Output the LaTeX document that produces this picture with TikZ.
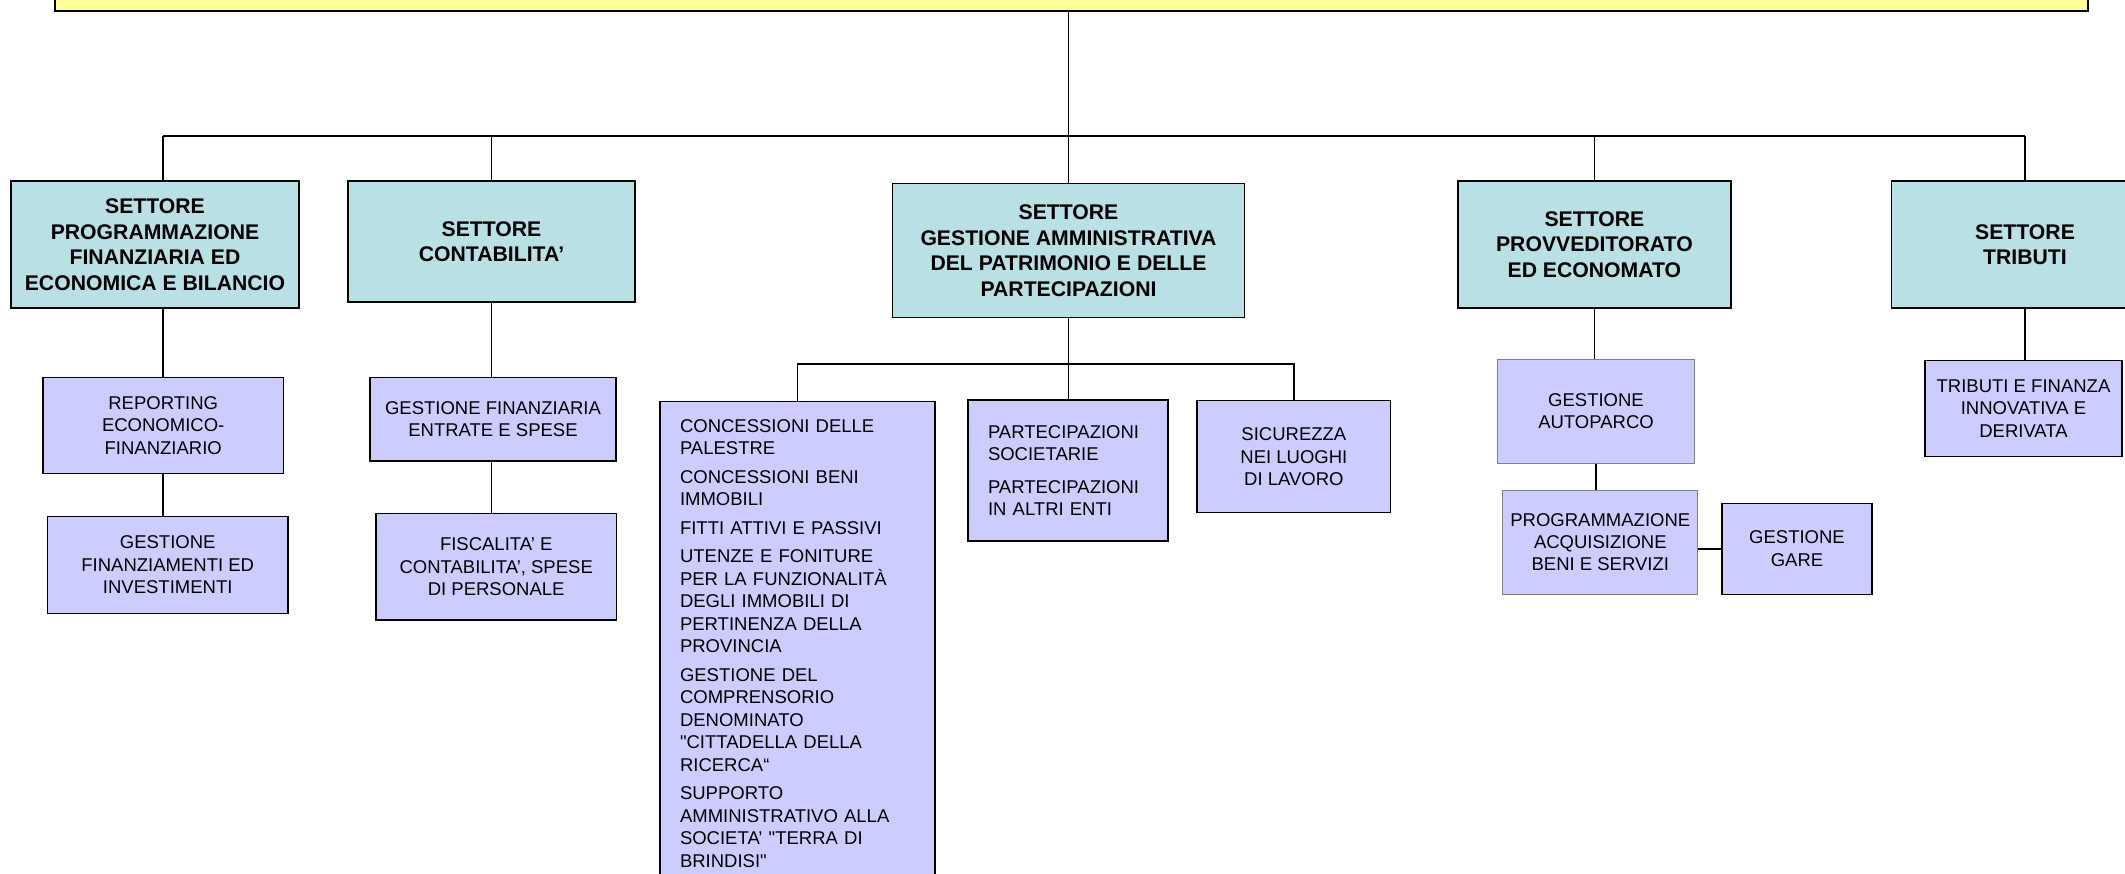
\documentclass[tikz,border=0pt]{standalone}
\usepackage{fontspec}
% plain family: quotes and apostrophes are set exactly as typed
\newfontfamily\orgfont{Liberation Sans}
\definecolor{titlefill}{RGB}{255,255,153}
\definecolor{sectfill}{RGB}{185,224,228}
\definecolor{unitfill}{RGB}{204,204,255}
\begin{document}
\begin{tikzpicture}[x=0.5pt,y=-0.5pt,
  sector/.style={draw=black, line width=0.8pt, fill=sectfill, align=center, inner sep=0pt,
    font=\orgfont\fontsize{10.6}{12.8}\selectfont\bfseries},
  unit/.style={draw=black, line width=0.7pt, fill=unitfill, align=center, inner sep=0pt,
    font=\orgfont\fontsize{9.25}{11.2}\selectfont},
  softunit/.style={unit, draw=black!50, line width=0.5pt},
  wh/.style 2 args={minimum width=#1*0.5pt, minimum height=#2*0.5pt},
  link/.style={line width=0.75pt}]
\clip (0,0) rectangle (2125,873);

% top box (only its lower edge is on the page)
\node[draw=black, line width=0.8pt, fill=titlefill, inner sep=0pt, wh={2033}{52}] (yel) at (1071.5,-15) {};

% sectors
\node[sector, wh={288}{127}] (s1) at (155,244.5)
  {SETTORE\\PROGRAMMAZIONE\\FINANZIARIA ED\\ECONOMICA E BILANCIO};
\node[sector, wh={287}{121}] (s2) at (491.5,241.5)
  {SETTORE\\CONTABILITA’};
\node[sector, wh={352}{134}] (s3) at (1068.5,250.5)
  {SETTORE\\GESTIONE AMMINISTRATIVA\\DEL PATRIMONIO E DELLE\\PARTECIPAZIONI};
\node[sector, wh={273}{127}] (s4) at (1594.4,244.5)
  {SETTORE\\PROVVEDITORATO\\ED ECONOMATO};
\node[sector, wh={267}{127}] (s5) at (2025,244.5)
  {SETTORE\\TRIBUTI};

% offices
\node[unit, wh={240.5}{96.4}] (rep) at (163.2,425.5) {REPORTING\\ECONOMICO-\\FINANZIARIO};
\node[unit, wh={240.7}{96.6}] (finv) at (167.7,565) {GESTIONE\\FINANZIAMENTI ED\\INVESTIMENTI};
\node[unit, wh={246}{83.7}] (gfin) at (493,419.2) {GESTIONE FINANZIARIA\\ENTRATE E SPESE};
\node[unit, wh={240.5}{106.3}] (fisc) at (496.2,566.9) {FISCALITA’ E\\CONTABILITA’, SPESE\\DI PERSONALE};
\node[unit, wh={275}{483.3}, align=left, text width=117.5pt,
      font=\orgfont\fontsize{9.25}{11.25}\selectfont] (list) at (797.5,643.3)
  {CONCESSIONI DELLE\\PALESTRE\\[3pt]
   CONCESSIONI BENI\\IMMOBILI\\[3pt]
   FITTI ATTIVI E PASSIVI\\[3pt]
   UTENZE E FONITURE\\PER LA FUNZIONALITÀ\\DEGLI IMMOBILI DI\\PERTINENZA DELLA\\PROVINCIA\\[3pt]
   GESTIONE DEL\\COMPRENSORIO\\DENOMINATO\\"CITTADELLA DELLA\\RICERCA“\\[3pt]
   SUPPORTO\\AMMINISTRATIVO ALLA\\SOCIETA’ "TERRA DI\\BRINDISI"};
\node[unit, wh={200}{141}, align=left, text width=80pt,
      font=\orgfont\fontsize{9.25}{10.7}\selectfont] (part) at (1068,470.5)
  {PARTECIPAZIONI\\SOCIETARIE\\[6pt]PARTECIPAZIONI\\IN ALTRI ENTI};
\node[unit, wh={193.7}{112}] (sic) at (1293.9,456.7) {SICUREZZA\\NEI LUOGHI\\DI LAVORO};
\node[softunit, wh={197}{104}] (auto) at (1596,411.3) {GESTIONE\\AUTOPARCO};
\node[softunit, wh={195}{104.3}] (prog) at (1600.3,542.2) {PROGRAMMAZIONE\\ACQUISIZIONE\\BENI E SERVIZI};
\node[unit, wh={150}{91}] (gare) at (1797,548.8) {GESTIONE\\GARE};
\node[unit, wh={197}{96.4}] (trib) at (2023.5,408.5) {TRIBUTI E FINANZA\\INNOVATIVA E\\DERIVATA};

% main bus
\coordinate (busL) at (163,136);
\coordinate (busR) at (2025,136);
\draw[link] (yel.south -| s3.north) -- (s3.north);
\draw[link] (busL) -- (busR);
\draw[link] (busL) -- (busL |- s1.north);
\draw[link] (s2.north |- busL) -- (s2.north);
\draw[link] (s4.north |- busL) -- (s4.north);
\draw[link] (busR) -- (s5.north);

% branches
\draw[link] (rep.north |- s1.south) -- (rep.north);
\draw[link] (rep.south) -- (rep.south |- finv.north);
\draw[link] (s2.south) -- (s2.south |- gfin.north);
\draw[link] (gfin.south -| s2.south) -- (fisc.north -| s2.south);
\path (s3.south) ++(0,45.6) coordinate (b3);
\draw[link] (s3.south) -- (b3);
\draw[link] (list.north) |- (b3) -| (sic.north);
\draw[link] (b3) -- (b3 |- part.north);
\draw[link] (s4.south) -- (s4.south |- auto.north);
\draw[link] (auto.south) -- (auto.south |- prog.north);
\draw[link, line width=1.1pt] (gare.west -| prog.east) -- (gare.west);
\draw[link] (s5.south) -- (s5.south |- trib.north);
\end{tikzpicture}
\end{document}
